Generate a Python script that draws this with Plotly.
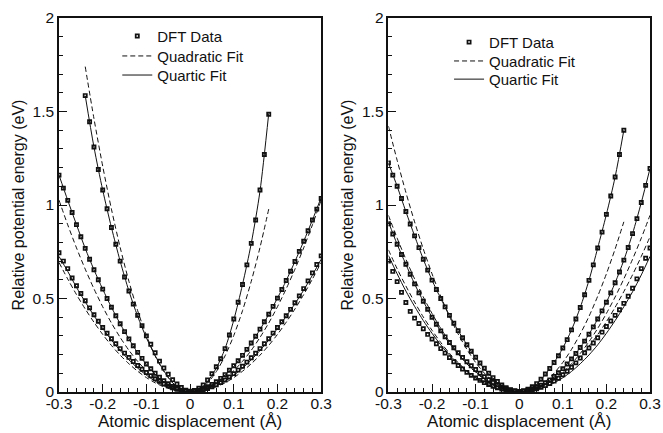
import plotly.graph_objects as go

# ---------------- shared x grids ----------------
X_FULL = [-0.30, -0.29, -0.28, -0.27, -0.26, -0.25, -0.24, -0.23, -0.22, -0.21, -0.20,
          -0.19, -0.18, -0.17, -0.16, -0.15, -0.14, -0.13, -0.12, -0.11, -0.10,
          -0.09, -0.08, -0.07, -0.06, -0.05, -0.04, -0.03, -0.02, -0.01, 0.00,
          0.01, 0.02, 0.03, 0.04, 0.05, 0.06, 0.07, 0.08, 0.09, 0.10,
          0.11, 0.12, 0.13, 0.14, 0.15, 0.16, 0.17, 0.18, 0.19, 0.20,
          0.21, 0.22, 0.23, 0.24, 0.25, 0.26, 0.27, 0.28, 0.29, 0.30]
X_A = [-0.24, -0.23, -0.22, -0.21, -0.20, -0.19, -0.18, -0.17, -0.16, -0.15, -0.14,
       -0.13, -0.12, -0.11, -0.10, -0.09, -0.08, -0.07, -0.06, -0.05, -0.04,
       -0.03, -0.02, -0.01, 0.00, 0.01, 0.02, 0.03, 0.04, 0.05, 0.06,
       0.07, 0.08, 0.09, 0.10, 0.11, 0.12, 0.13, 0.14, 0.15, 0.16, 0.17, 0.18]
X_E = [-0.30, -0.29, -0.28, -0.27, -0.26, -0.25, -0.24, -0.23, -0.22, -0.21, -0.20,
       -0.19, -0.18, -0.17, -0.16, -0.15, -0.14, -0.13, -0.12, -0.11, -0.10,
       -0.09, -0.08, -0.07, -0.06, -0.05, -0.04, -0.03, -0.02, -0.01, 0.00,
       0.01, 0.02, 0.03, 0.04, 0.05, 0.06, 0.07, 0.08, 0.09, 0.10,
       0.11, 0.12, 0.13, 0.14, 0.15, 0.16, 0.17, 0.18, 0.19, 0.20,
       0.21, 0.22, 0.23, 0.24]
XF_FULL = [-0.30, -0.28, -0.26, -0.24, -0.22, -0.20, -0.18, -0.16, -0.14, -0.12, -0.10,
           -0.08, -0.06, -0.04, -0.02, 0.00, 0.02, 0.04, 0.06, 0.08, 0.10,
           0.12, 0.14, 0.16, 0.18, 0.20, 0.22, 0.24, 0.26, 0.28, 0.30]
XF_A = [-0.24, -0.22, -0.20, -0.18, -0.16, -0.14, -0.12, -0.10, -0.08, -0.06, -0.04,
        -0.02, 0.00, 0.02, 0.04, 0.06, 0.08, 0.10, 0.12, 0.14, 0.16, 0.18]
XF_E = [-0.30, -0.28, -0.26, -0.24, -0.22, -0.20, -0.18, -0.16, -0.14, -0.12, -0.10,
        -0.08, -0.06, -0.04, -0.02, 0.00, 0.02, 0.04, 0.06, 0.08, 0.10,
        0.12, 0.14, 0.16, 0.18, 0.20, 0.22, 0.24]

# ---------------- left panel ----------------
A_dft = [1.585, 1.445, 1.31, 1.19, 1.08, 0.98, 0.88, 0.79, 0.70, 0.615, 0.54,
         0.47, 0.41, 0.355, 0.30, 0.255, 0.21, 0.165, 0.128, 0.095, 0.066,
         0.043, 0.024, 0.01, 0.004, 0.008, 0.02, 0.038, 0.064, 0.098, 0.135,
         0.178, 0.232, 0.305, 0.39, 0.48, 0.575, 0.68, 0.795, 0.92, 1.08, 1.27, 1.485]
A_quartic = [1.585, 1.31, 1.08, 0.88, 0.70, 0.54, 0.405, 0.29, 0.195, 0.113, 0.05,
             0.012, 0.0, 0.014, 0.056, 0.128, 0.232, 0.385, 0.575, 0.795, 1.075, 1.49]
A_quad = [1.740, 1.462, 1.208, 0.978, 0.773, 0.592, 0.435, 0.302, 0.193, 0.109, 0.048,
          0.012, 0.0, 0.012, 0.048, 0.109, 0.193, 0.302, 0.435, 0.592, 0.773, 0.978]

B_dft = [1.16, 1.09, 1.025, 0.96, 0.895, 0.83, 0.768, 0.71, 0.654, 0.60, 0.55,
         0.50, 0.453, 0.408, 0.365, 0.323, 0.284, 0.247, 0.212, 0.18, 0.15,
         0.124, 0.10, 0.079, 0.06, 0.044, 0.03, 0.019, 0.01, 0.005, 0.003,
         0.005, 0.01, 0.018, 0.028, 0.04, 0.055, 0.073, 0.093, 0.116, 0.14,
         0.167, 0.196, 0.228, 0.262, 0.298, 0.336, 0.376, 0.416, 0.458, 0.502,
         0.548, 0.596, 0.646, 0.698, 0.752, 0.806, 0.862, 0.92, 0.978, 1.035]
B_quartic = [1.16, 1.025, 0.895, 0.768, 0.654, 0.55, 0.453, 0.365, 0.284, 0.21, 0.147,
             0.095, 0.054, 0.024, 0.006, 0.0, 0.006, 0.024, 0.052, 0.09, 0.137,
             0.194, 0.26, 0.334, 0.415, 0.502, 0.596, 0.698, 0.806, 0.92, 1.04]
B_quad = [1.026, 0.894, 0.771, 0.657, 0.552, 0.456, 0.369, 0.292, 0.223, 0.164, 0.114,
          0.073, 0.041, 0.018, 0.005, 0.0, 0.005, 0.018, 0.041, 0.073, 0.114,
          0.164, 0.223, 0.292, 0.369, 0.456, 0.552, 0.657, 0.771, 0.894, 1.026]

C_dft = [0.745, 0.70, 0.66, 0.61, 0.568, 0.527, 0.488, 0.45, 0.413, 0.378, 0.345,
         0.314, 0.285, 0.258, 0.232, 0.208, 0.185, 0.163, 0.142, 0.122, 0.104,
         0.087, 0.071, 0.057, 0.044, 0.033, 0.023, 0.015, 0.008, 0.004, 0.002,
         0.003, 0.007, 0.012, 0.019, 0.028, 0.038, 0.05, 0.064, 0.08, 0.098,
         0.117, 0.138, 0.16, 0.183, 0.207, 0.232, 0.258, 0.285, 0.315, 0.345,
         0.376, 0.408, 0.442, 0.477, 0.514, 0.553, 0.594, 0.637, 0.682, 0.728]
C_quartic = [0.725, 0.645, 0.56, 0.482, 0.408, 0.34, 0.278, 0.222, 0.172, 0.128, 0.09,
             0.058, 0.033, 0.015, 0.004, 0.0, 0.004, 0.015, 0.033, 0.058, 0.09,
             0.128, 0.172, 0.222, 0.278, 0.34, 0.405, 0.472, 0.545, 0.625, 0.71]
C_quad = [0.693, 0.604, 0.521, 0.444, 0.373, 0.308, 0.249, 0.197, 0.151, 0.111, 0.077,
          0.049, 0.028, 0.012, 0.003, 0.0, 0.003, 0.012, 0.028, 0.049, 0.077,
          0.111, 0.151, 0.197, 0.249, 0.308, 0.373, 0.444, 0.521, 0.604, 0.693]

# ---------------- right panel ----------------
E_dft = [1.225, 1.16, 1.10, 1.035, 0.965, 0.898, 0.835, 0.772, 0.71, 0.652, 0.598,
         0.548, 0.50, 0.455, 0.41, 0.368, 0.328, 0.29, 0.253, 0.218, 0.186,
         0.155, 0.127, 0.10, 0.077, 0.056, 0.038, 0.023, 0.012, 0.005, 0.002,
         0.006, 0.015, 0.028, 0.045, 0.068, 0.096, 0.126, 0.158, 0.194, 0.235,
         0.28, 0.332, 0.39, 0.452, 0.52, 0.597, 0.68, 0.77, 0.855, 0.95,
         1.048, 1.15, 1.27, 1.40]
E_quartic = [1.225, 1.10, 0.965, 0.835, 0.71, 0.598, 0.50, 0.41, 0.328, 0.253, 0.184,
             0.123, 0.072, 0.033, 0.009, 0.0, 0.011, 0.042, 0.094, 0.158, 0.235,
             0.332, 0.452, 0.597, 0.77, 0.95, 1.15, 1.40]
E_quad = [1.422, 1.239, 1.068, 0.910, 0.765, 0.632, 0.512, 0.404, 0.310, 0.228, 0.158,
          0.101, 0.057, 0.025, 0.006, 0.0, 0.006, 0.025, 0.057, 0.101, 0.158,
          0.228, 0.310, 0.404, 0.512, 0.632, 0.765, 0.910]

F_dft = [0.90, 0.845, 0.79, 0.735, 0.683, 0.63, 0.578, 0.53, 0.485, 0.442, 0.40,
         0.362, 0.327, 0.295, 0.265, 0.237, 0.21, 0.185, 0.162, 0.14, 0.12,
         0.10, 0.082, 0.066, 0.051, 0.038, 0.027, 0.017, 0.01, 0.005, 0.003,
         0.005, 0.01, 0.017, 0.026, 0.037, 0.05, 0.065, 0.083, 0.103, 0.125,
         0.15, 0.177, 0.206, 0.238, 0.272, 0.309, 0.348, 0.39, 0.434, 0.48,
         0.53, 0.584, 0.642, 0.705, 0.773, 0.847, 0.927, 1.013, 1.105, 1.195]
F_quartic = [0.91, 0.79, 0.683, 0.578, 0.485, 0.40, 0.325, 0.26, 0.203, 0.152, 0.108,
             0.071, 0.041, 0.019, 0.005, 0.0, 0.005, 0.021, 0.047, 0.082, 0.125,
             0.177, 0.238, 0.309, 0.39, 0.48, 0.584, 0.705, 0.847, 1.013, 1.195]
F_quad = [0.945, 0.823, 0.710, 0.605, 0.508, 0.420, 0.340, 0.269, 0.206, 0.151, 0.105,
          0.067, 0.038, 0.017, 0.004, 0.0, 0.004, 0.017, 0.038, 0.067, 0.105,
          0.151, 0.206, 0.269, 0.340, 0.420, 0.508, 0.605, 0.710, 0.823, 0.945]

G_dft = [0.70, 0.645, 0.59, 0.533, 0.479, 0.431, 0.395, 0.366, 0.338, 0.308, 0.283,
         0.258, 0.232, 0.208, 0.184, 0.162, 0.142, 0.123, 0.105, 0.089, 0.075,
         0.062, 0.05, 0.04, 0.031, 0.023, 0.016, 0.011, 0.007, 0.004, 0.003,
         0.004, 0.007, 0.011, 0.017, 0.025, 0.034, 0.045, 0.058, 0.073, 0.092,
         0.111, 0.132, 0.156, 0.182, 0.21, 0.235, 0.262, 0.29, 0.32, 0.35,
         0.38, 0.41, 0.44, 0.474, 0.512, 0.555, 0.605, 0.66, 0.715, 0.77]
G_quartic = [0.73, 0.632, 0.54, 0.458, 0.382, 0.314, 0.252, 0.198, 0.151, 0.11, 0.076,
             0.049, 0.027, 0.012, 0.003, 0.0, 0.003, 0.012, 0.027, 0.049, 0.076,
             0.11, 0.151, 0.198, 0.252, 0.314, 0.382, 0.456, 0.536, 0.626, 0.725]
G_quad = [0.76, 0.659, 0.567, 0.481, 0.401, 0.33, 0.265, 0.207, 0.157, 0.113, 0.076,
          0.048, 0.025, 0.009, 0.002, 0.0, 0.006, 0.019, 0.039, 0.066, 0.10,
          0.141, 0.189, 0.245, 0.307, 0.376, 0.453, 0.537, 0.627, 0.725, 0.83]

X_TICKS = [-0.3, -0.2, -0.1, 0.0, 0.1, 0.2, 0.3]
X_TICKTEXT = ["-0.3", "-0.2", "-0.1", "0", "0.1", "0.2", "0.3"]
Y_TICKS = [0, 0.5, 1, 1.5, 2]
Y_TICKTEXT = ["0", "0.5", "1", "1.5", "2"]
LEGEND_NAMES = ["DFT Data", "Quadratic Fit", "Quartic Fit"]

FONT = "Liberation Sans, Arial, Helvetica, sans-serif"
BLACK = "#111111"

panels = [
    dict(xa="x", ya="y", legends=["legend", "legend2", "legend3"],
         fams=[(X_A, A_dft, XF_A, A_quad, A_quartic),
               (X_FULL, B_dft, XF_FULL, B_quad, B_quartic),
               (X_FULL, C_dft, XF_FULL, C_quad, C_quartic)]),
    dict(xa="x2", ya="y2", legends=["legend4", "legend5", "legend6"],
         fams=[(X_E, E_dft, XF_E, E_quad, E_quartic),
               (X_FULL, F_dft, XF_FULL, F_quad, F_quartic),
               (X_FULL, G_dft, XF_FULL, G_quad, G_quartic)]),
]

fig = go.Figure()
for p in panels:
    lg = p["legends"]
    for i, (xd, yd, xf, yq2, yq4) in enumerate(p["fams"]):
        fig.add_trace(go.Scatter(
            x=xd, y=yd, mode="markers", name=LEGEND_NAMES[0],
            marker=dict(symbol="square-open", size=3.2, color=BLACK, line=dict(width=1.7, color=BLACK)),
            xaxis=p["xa"], yaxis=p["ya"], legend=lg[0], showlegend=(i == 0)))
    for i, (xd, yd, xf, yq2, yq4) in enumerate(p["fams"]):
        fig.add_trace(go.Scatter(
            x=xf, y=yq2, mode="lines", name=LEGEND_NAMES[1],
            line=dict(color=BLACK, width=1, dash="5px,3px", shape="spline", smoothing=0.8),
            xaxis=p["xa"], yaxis=p["ya"], legend=lg[1], showlegend=(i == 0)))
    for i, (xd, yd, xf, yq2, yq4) in enumerate(p["fams"]):
        fig.add_trace(go.Scatter(
            x=xf, y=yq4, mode="lines", name=LEGEND_NAMES[2],
            line=dict(color=BLACK, width=1, shape="spline", smoothing=0.8),
            xaxis=p["xa"], yaxis=p["ya"], legend=lg[2], showlegend=(i == 0)))

axis_common = dict(showline=True, mirror=True, linecolor=BLACK, linewidth=1.6,
                   ticks="inside", ticklen=8, tickwidth=1.2, tickcolor=BLACK,
                   showgrid=False, zeroline=False, automargin=False,
                   tickfont=dict(family=FONT, size=15.5, color=BLACK))

xcommon = dict(axis_common, range=[-0.3, 0.3], tickvals=X_TICKS, ticktext=X_TICKTEXT,
               ticklabelstandoff=-3,
               minor=dict(ticks="inside", ticklen=4, dtick=0.02, tick0=0, tickcolor=BLACK, tickwidth=1),
               title=dict(text="Atomic displacement (Å)", font=dict(family=FONT, size=17, color=BLACK), standoff=0))
ycommon = dict(axis_common, range=[0, 2], tickvals=Y_TICKS, ticktext=Y_TICKTEXT,
               minor=dict(ticks="inside", ticklen=4, dtick=0.1, tick0=0, tickcolor=BLACK, tickwidth=1),
               title=dict(text="Relative potential energy (eV)", font=dict(family=FONT, size=16, color=BLACK), standoff=4))

legend_common = dict(font=dict(family=FONT, size=15, color=BLACK), bgcolor="rgba(0,0,0,0)",
                     borderwidth=0, xanchor="left", yanchor="top", itemwidth=30)

LX_LEFT, LX_RIGHT = 0.0986, 0.660
LY_LEFT = [0.9955, 0.942, 0.891]
LY_RIGHT = [0.979, 0.9286, 0.880]

fig.update_layout(
    width=663, height=433,
    margin=dict(l=58.7, r=13, t=18.3, b=40.7, autoexpand=False),
    paper_bgcolor="white", plot_bgcolor="white",
    xaxis=dict(xcommon, domain=[0.0, 0.4436], anchor="y"),
    yaxis=dict(ycommon, domain=[0.0, 1.0], anchor="x"),
    xaxis2=dict(xcommon, domain=[0.5574, 1.0], anchor="y2"),
    yaxis2=dict(ycommon, domain=[0.0, 1.0], anchor="x2"),
    legend=dict(legend_common, x=LX_LEFT, y=LY_LEFT[0]),
    legend2=dict(legend_common, x=LX_LEFT, y=LY_LEFT[1]),
    legend3=dict(legend_common, x=LX_LEFT, y=LY_LEFT[2]),
    legend4=dict(legend_common, x=LX_RIGHT, y=LY_RIGHT[0]),
    legend5=dict(legend_common, x=LX_RIGHT, y=LY_RIGHT[1]),
    legend6=dict(legend_common, x=LX_RIGHT, y=LY_RIGHT[2]),
    showlegend=True,
)

fig.write_html("out.html")
